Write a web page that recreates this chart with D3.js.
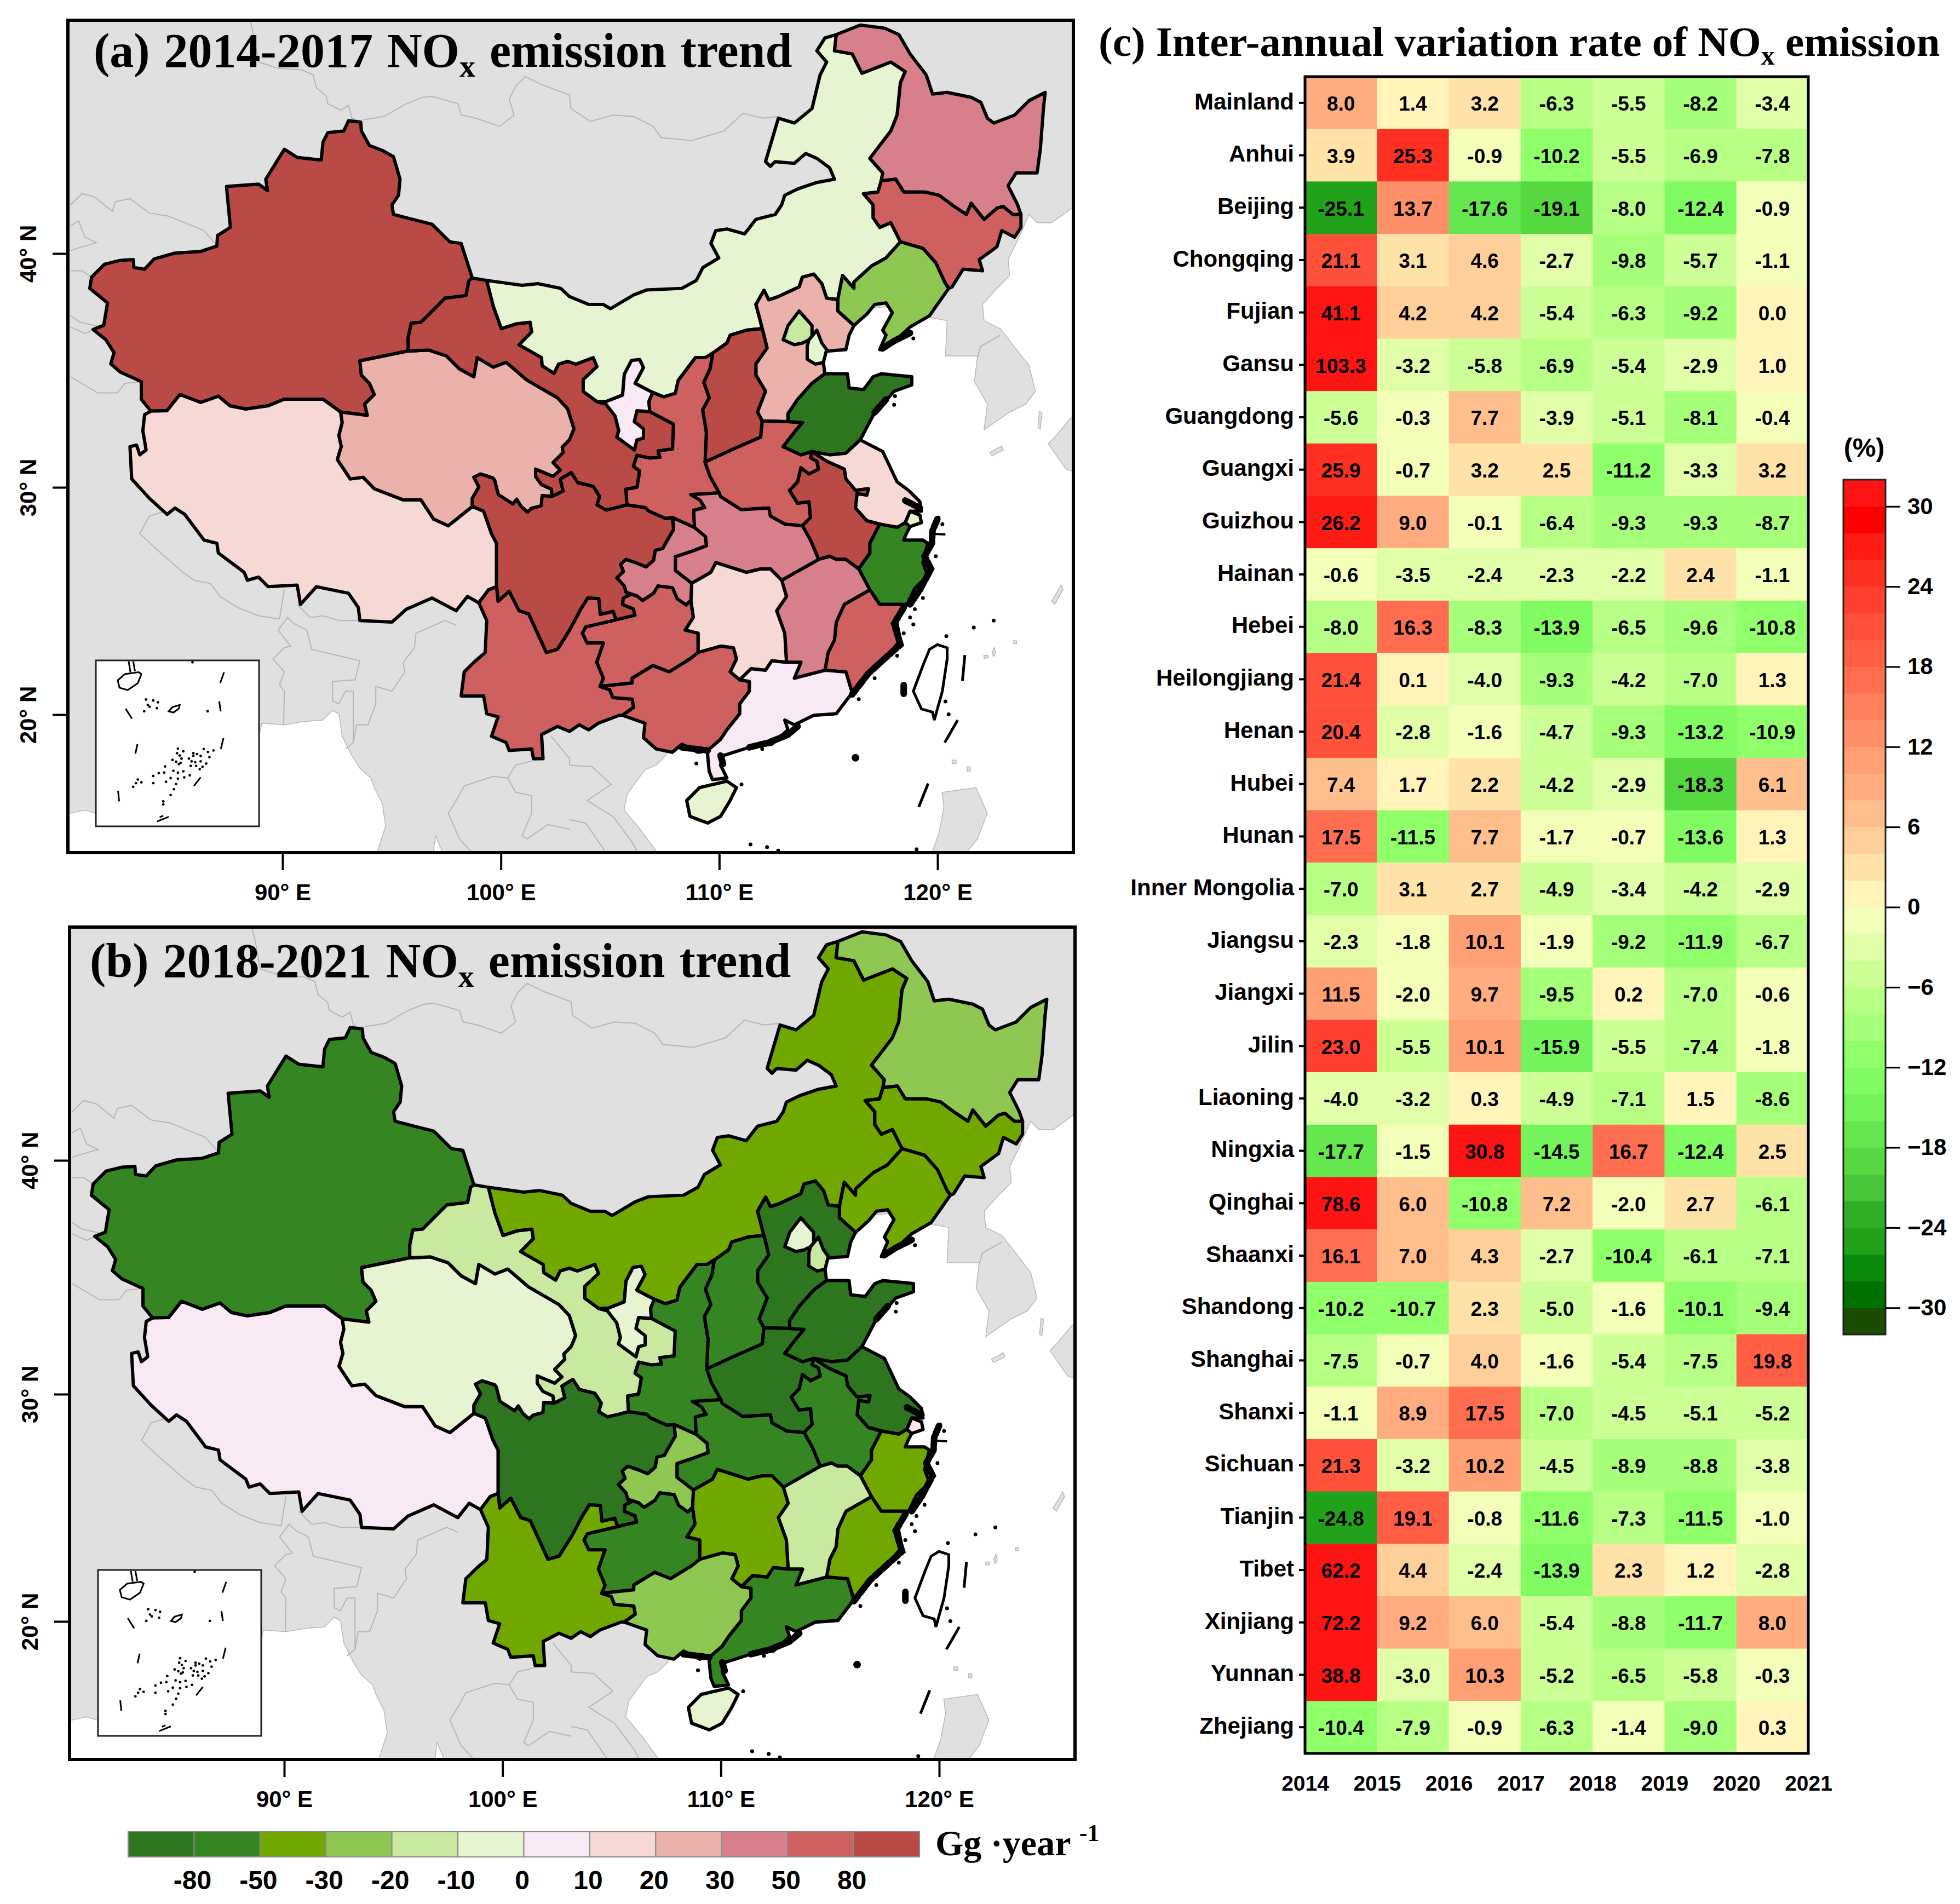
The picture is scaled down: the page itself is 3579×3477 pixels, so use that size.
<!DOCTYPE html>
<html>
<head>
<meta charset="utf-8">
<script src="https://cdn.jsdelivr.net/npm/d3@7"></script>
<style>
html, body { margin: 0; padding: 0; background: #fff; }
svg { display: block; }
</style>
</head>
<body>
<div class="container"></div>
<script>
// values

// (c) heat map
var regions = ["Mainland","Anhui","Beijing","Chongqing","Fujian","Gansu","Guangdong","Guangxi","Guizhou","Hainan","Hebei","Heilongjiang","Henan","Hubei","Hunan","Inner Mongolia","Jiangsu","Jiangxi","Jilin","Liaoning","Ningxia","Qinghai","Shaanxi","Shandong","Shanghai","Shanxi","Sichuan","Tianjin","Tibet","Xinjiang","Yunnan","Zhejiang"];
var years = [2014,2015,2016,2017,2018,2019,2020,2021];
var rates = [
  [8.0,1.4,3.2,-6.3,-5.5,-8.2,-3.4],
  [3.9,25.3,-0.9,-10.2,-5.5,-6.9,-7.8],
  [-25.1,13.7,-17.6,-19.1,-8.0,-12.4,-0.9],
  [21.1,3.1,4.6,-2.7,-9.8,-5.7,-1.1],
  [41.1,4.2,4.2,-5.4,-6.3,-9.2,0.0],
  [103.3,-3.2,-5.8,-6.9,-5.4,-2.9,1.0],
  [-5.6,-0.3,7.7,-3.9,-5.1,-8.1,-0.4],
  [25.9,-0.7,3.2,2.5,-11.2,-3.3,3.2],
  [26.2,9.0,-0.1,-6.4,-9.3,-9.3,-8.7],
  [-0.6,-3.5,-2.4,-2.3,-2.2,2.4,-1.1],
  [-8.0,16.3,-8.3,-13.9,-6.5,-9.6,-10.8],
  [21.4,0.1,-4.0,-9.3,-4.2,-7.0,1.3],
  [20.4,-2.8,-1.6,-4.7,-9.3,-13.2,-10.9],
  [7.4,1.7,2.2,-4.2,-2.9,-18.3,6.1],
  [17.5,-11.5,7.7,-1.7,-0.7,-13.6,1.3],
  [-7.0,3.1,2.7,-4.9,-3.4,-4.2,-2.9],
  [-2.3,-1.8,10.1,-1.9,-9.2,-11.9,-6.7],
  [11.5,-2.0,9.7,-9.5,0.2,-7.0,-0.6],
  [23.0,-5.5,10.1,-15.9,-5.5,-7.4,-1.8],
  [-4.0,-3.2,0.3,-4.9,-7.1,1.5,-8.6],
  [-17.7,-1.5,30.8,-14.5,16.7,-12.4,2.5],
  [78.6,6.0,-10.8,7.2,-2.0,2.7,-6.1],
  [16.1,7.0,4.3,-2.7,-10.4,-6.1,-7.1],
  [-10.2,-10.7,2.3,-5.0,-1.6,-10.1,-9.4],
  [-7.5,-0.7,4.0,-1.6,-5.4,-7.5,19.8],
  [-1.1,8.9,17.5,-7.0,-4.5,-5.1,-5.2],
  [21.3,-3.2,10.2,-4.5,-8.9,-8.8,-3.8],
  [-24.8,19.1,-0.8,-11.6,-7.3,-11.5,-1.0],
  [62.2,4.4,-2.4,-13.9,2.3,1.2,-2.8],
  [72.2,9.2,6.0,-5.4,-8.8,-11.7,8.0],
  [38.8,-3.0,10.3,-5.2,-6.5,-5.8,-0.3],
  [-10.4,-7.9,-0.9,-6.3,-1.4,-9.0,0.3]
];
// bottom to top, one colour per 2 % step
var rateColors = ["#1a4d00","#007000","#0a8a0a","#22a11a","#2fae28","#48c438","#55d840","#63e64e","#72f45a","#80fc62","#8fff6a","#a6ff78","#b8ff85","#ccff95","#e0ffa8","#f3ffb8","#fff5bb","#ffe2a8","#ffcf9a","#ffbf8c","#ffad80","#ff9f74","#ff8f68","#ff7f5c","#ff6e50","#ff5e44","#ff503a","#ff402e","#ff3022","#ff1c14","#ff0000","#ff1414"];
var rateTicks = [30,24,18,12,6,0,-6,-12,-18,-24,-30];

// (a) (b) legend
var trendBreaks = [-80,-50,-30,-20,-10,0,10,20,30,50,80];
var trendColors = ["#2d751f","#358522","#70a800","#8fc753","#c9e9a0","#e6f4d2","#f9e9f4","#f6d9d5","#ebb2ab","#d7808b","#cf6060","#b94a45"];

var provinceNames = ["Xinjiang","Tibet","Qinghai","Gansu","Ningxia","Inner Mongolia","Heilongjiang","Jilin","Liaoning","Hebei","Beijing","Tianjin","Shanxi","Shaanxi","Henan","Shandong","Jiangsu","Anhui","Zhejiang","Shanghai","Fujian","Jiangxi","Hubei","Hunan","Chongqing","Sichuan","Guizhou","Yunnan","Guangxi","Guangdong","Hainan"];
// only the class can be read, so these are estimates inside each class
var trend1417 = [90,15,25,90,5,-5,40,65,-25,25,-15,-5,90,65,65,-90,15,90,-65,-5,65,40,40,15,40,90,65,65,65,5,-5];
var trend1821 = [-65,5,-5,-15,-5,-40,-25,-40,-40,-90,-5,-15,-65,-65,-90,-90,-90,-65,-40,5,-40,-15,-65,-40,-25,-90,-65,-40,-25,-65,-5];

// shared borders, [x, y] in the degrees of the panel axes
var xjNorth = [[98.69,38.95],[98.18,40.43],[97.66,40.50],[96.85,41.25],[95.08,41.67],[95.01,42.08],[95.31,42.49],[95.38,43.18],[95.08,44.14],[94.57,44.41],[93.98,44.62],[93.61,45.24],[93.58,45.62],[93.02,45.68],[92.80,45.24],[92.07,45.17],[91.85,44.76],[91.77,44.00],[90.67,44.11],[90.08,44.46],[89.23,43.18],[89.31,42.70],[88.90,42.97],[87.43,42.87],[87.61,41.12],[87.02,40.77],[86.99,40.32],[86.25,40.09],[85.07,40.02],[84.12,39.77],[83.68,39.33],[83.19,39.40],[83.16,39.74],[82.57,39.71],[81.84,39.54],[81.25,38.99],[81.17,38.51],[81.98,37.89],[81.81,36.93],[81.32,36.75],[81.91,36.31],[82.28,35.76],[82.13,35.28],[82.57,34.93],[83.53,34.52],[83.53,33.77],[83.97,33.26]];
var xjTibet = [[83.97,33.26],[84.71,33.28],[85.30,33.97],[86.25,33.63],[87.06,33.90],[87.58,33.49],[88.31,33.35],[89.34,33.49],[90.08,33.77],[91.85,33.77],[92.66,33.22]];
var xjQinghai = [[92.66,33.22],[93.88,33.08],[93.76,33.56],[94.20,33.97],[93.98,34.45],[93.61,34.80],[93.54,35.41],[95.75,35.83]];
var xjGansu = [[95.75,35.83],[95.75,36.38],[95.89,37.02],[96.34,37.06],[97.44,38.09],[98.40,38.20],[98.54,38.85],[98.69,38.95]];
var qhGs = [[95.75,35.83],[96.70,35.87],[97.51,35.62],[98.10,35.07],[98.76,34.73],[98.91,35.55],[99.65,35.14],[100.24,35.35],[101.19,34.59],[102.59,33.83],[103.06,33.36],[103.35,32.50],[103.14,32.03],[102.81,31.72],[102.85,31.49],[102.39,31.06],[102.72,30.74],[102.39,30.47],[101.59,30.78],[101.59,30.47],[101.85,30.12],[102.31,29.92],[102.35,29.60]];
var qhSc = [[98.69,29.16],[98.69,29.52],[98.99,30.02],[98.76,30.43],[99.06,30.57],[99.63,30.40],[99.71,30.31],[99.88,29.68],[100.55,29.27],[100.72,29.48],[100.93,29.15],[101.22,28.91],[101.39,29.07],[101.85,29.19],[101.89,29.64],[102.35,29.60]];
var qhTb = [[92.66,33.22],[92.73,32.77],[92.58,32.22],[92.69,31.74],[92.51,31.19],[93.10,30.36],[93.69,30.43],[94.20,29.94],[95.53,29.45],[96.34,29.45],[96.92,28.60],[97.59,28.31],[98.69,29.16]];
var tbOuter = [[83.97,33.26],[83.68,33.11],[83.60,32.42],[83.75,31.60],[83.46,31.39],[83.31,31.81],[83.01,31.74],[83.09,30.36],[83.90,29.52],[84.71,28.81],[85.07,29.09],[85.52,28.81],[86.40,27.68],[86.99,27.54],[87.06,27.11],[88.24,26.26],[88.39,25.91],[88.90,26.05],[89.34,25.63],[90.67,25.70],[90.82,24.85],[91.55,25.63],[93.02,25.34],[93.47,24.71],[93.54,24.14],[95.01,24.07],[95.67,24.64],[96.85,25.13],[97.95,24.57],[98.47,25.20],[98.99,24.92]];
var tbYn = [[98.99,24.92],[99.43,25.49],[99.80,25.63]];
var tbSc = [[99.80,25.63],[99.80,27.54],[99.57,27.96],[99.21,28.95],[98.69,29.16]];
var scYn = [[99.80,25.63],[99.87,24.99],[100.38,25.42],[100.83,24.57],[101.27,24.43],[102.08,22.73],[102.59,22.87],[103.15,23.72],[103.66,24.64],[103.98,25.13],[104.48,25.10],[104.55,24.41],[105.14,24.54],[105.27,24.17]];
var scGz = [[105.27,24.17],[106.14,24.37],[106.07,24.65],[105.57,24.85],[105.61,25.13],[105.89,25.26],[105.73,25.38]];
var scCq = [[107.86,28.67],[107.91,28.15],[107.57,27.59],[107.41,27.31],[107.07,27.23],[106.99,26.79],[106.65,26.50],[106.23,26.67],[105.73,26.83],[105.48,26.62],[105.61,26.30],[105.31,26.02],[105.65,25.66],[105.73,25.38]];
var cqHb = [[108.87,28.23],[109.37,27.83],[109.41,27.43],[108.74,27.19],[107.99,26.95],[107.99,26.34],[108.74,25.78]];
var cqSn = [[108.87,28.23],[107.86,28.67]];
var cqHn = [[108.74,25.78],[108.70,25.02]];
var cqGz = [[105.73,25.38],[106.23,25.22],[106.49,25.02],[106.99,25.34],[107.20,25.66],[107.86,25.58],[108.07,25.10],[108.49,24.82],[108.70,25.02]];
var gzHn = [[108.70,25.02],[108.81,24.28],[108.44,23.72],[109.03,23.58],[109.03,22.73]];
var gzGx = [[104.54,21.24],[106.01,21.39],[106.01,21.60],[106.97,22.16],[107.70,21.88],[108.66,22.45],[109.03,22.73]];
var gzYn = [[105.27,24.17],[103.88,23.86],[103.73,23.58],[103.95,23.15],[104.69,23.15],[104.39,22.30],[104.69,21.60],[104.54,21.24]];
var ynGx = [[104.54,21.24],[104.98,21.10],[105.13,20.75],[106.01,20.68],[106.08,20.32],[105.57,19.97]];
var ynOuter = [[98.99,24.92],[99.35,24.14],[99.28,22.73],[98.84,22.37],[98.32,21.88],[98.18,20.82],[99.21,20.82],[99.35,20.04],[99.87,19.90],[99.57,19.05],[100.24,18.77],[100.38,18.42],[101.41,18.49],[101.49,18.06],[101.93,18.06],[101.86,19.12],[102.59,19.48],[103.14,19.26],[103.58,19.55],[104.02,19.33],[104.46,19.62],[105.42,19.97],[105.57,19.97]];
var gxOuter = [[105.57,19.97],[106.60,19.62],[106.53,18.98],[107.11,18.49],[107.85,18.34],[108.29,18.70],[109.03,18.34],[109.47,18.42]];
var gxGd = [[109.47,18.42],[110.06,18.91],[110.35,19.33],[110.94,20.04],[110.94,20.47],[111.38,21.03],[111.38,21.46],[110.94,21.53]];
var gxHn = [[109.03,22.73],[110.06,23.01],[110.65,22.94],[110.79,22.45],[110.50,21.88],[110.94,21.53]];
var gdHn = [[110.94,21.53],[111.46,22.02],[112.12,21.95],[112.41,22.37],[113.08,22.30]];
var gdJx = [[113.08,22.30],[113.74,22.30],[113.44,21.60],[114.84,21.95]];
var gdFj = [[114.84,21.95],[115.80,21.88],[116.09,20.96]];
var gdCoast = [[109.47,18.42],[109.47,18.20],[109.54,17.50],[109.69,17.14],[110.35,17.21],[110.06,17.78],[110.20,18.20],[111.38,18.56],[112.41,18.70],[113.15,19.33],[113.00,19.76],[113.44,19.55],[114.33,19.97],[115.36,20.04],[116.09,20.96]];
var fjCoast = [[118.60,24.85],[118.08,24.28],[118.30,23.29],[117.71,22.59],[116.83,21.74],[116.09,20.96]];
var fjJx = [[114.84,21.95],[114.99,22.73],[115.28,23.29],[115.36,24.07],[115.73,24.85],[116.90,25.49]];
var fjZj = [[116.90,25.49],[117.35,24.85],[118.01,24.85],[118.60,24.85]];
var zjJx = [[116.90,25.49],[116.39,26.41]];
var zjAh = [[116.39,26.41],[116.90,27.11],[116.90,27.54],[117.35,28.38]];
var zjCoast = [[118.52,28.45],[118.74,28.27],[118.57,27.96],[118.45,27.68],[119.33,27.68],[119.55,27.54],[119.33,26.69],[119.55,26.12],[118.96,25.56],[118.60,24.85]];
var jsZj = [[117.35,28.38],[118.15,28.24],[118.52,28.45]];
var jxAh = [[116.39,26.41],[115.80,26.83],[115.36,26.83],[115.06,26.97],[114.55,26.83]];
var jxHb = [[114.55,26.83],[112.86,25.91]];
var jxHn = [[112.86,25.91],[113.08,25.20],[112.63,24.57],[113.00,23.58],[113.08,22.30]];
var hnHb = [[108.74,25.78],[109.62,26.26],[109.84,26.69],[111.24,26.26],[111.90,26.41],[112.34,26.41],[112.86,25.91]];
var hbSn = [[110.00,29.76],[108.70,29.68],[109.12,29.44],[109.33,29.11],[108.83,28.99],[108.87,28.23]];
var hbHa = [[110.00,29.76],[110.06,29.59],[111.00,29.02],[112.27,29.09],[112.34,28.74],[113.00,28.38],[113.81,28.31]];
var hbAh = [[113.81,28.31],[114.18,27.68],[114.55,26.83]];
var haAh = [[113.81,28.31],[114.18,28.67],[114.11,29.37],[113.59,29.30],[113.22,29.87],[113.59,30.23],[113.74,30.84],[114.11,30.57],[114.55,30.78],[114.47,31.12],[114.18,31.26],[114.25,31.53]];
var haSd = [[114.25,31.53],[113.74,31.39],[112.93,31.74],[113.44,32.36],[113.81,32.77],[113.15,32.81]];
var haHe = [[113.15,32.81],[111.97,32.84]];
var haSx = [[111.97,32.84],[111.90,32.15],[110.72,31.67],[109.35,31.08]];
var haSn = [[109.35,31.08],[109.58,30.47],[110.00,29.76]];
var sxSn = [[109.70,35.74],[109.58,35.08],[109.29,34.49],[109.54,33.83],[109.24,33.32],[109.41,32.35],[109.35,31.08]];
var sxIm = [[109.70,35.74],[110.35,36.17],[110.50,36.51],[111.24,36.72],[111.97,36.79]];
var sxHe = [[111.97,36.79],[112.19,35.96],[111.68,35.28],[111.68,34.80],[112.12,34.11],[111.75,33.22],[111.97,32.84]];
var snIm = [[106.95,34.06],[107.45,33.87],[107.99,34.02],[108.12,34.57],[108.91,35.55],[109.37,35.55],[109.70,35.74]];
var nxIm = [[104.40,33.67],[104.81,33.67],[105.57,33.95],[105.65,34.84],[105.98,35.43],[106.36,35.47],[106.53,35.12],[106.15,34.45],[106.95,34.06]];
var nxSn = [[106.95,34.06],[106.78,33.67],[106.82,33.24]];
var nxGs = [[104.40,33.67],[104.81,33.56],[105.23,33.05],[105.40,32.42],[105.31,32.15],[106.11,31.60],[106.23,32.03],[106.53,32.11],[106.53,32.50],[106.11,32.81],[106.23,33.28],[106.82,33.24]];
var gsSn = [[106.82,33.24],[107.91,32.70],[107.86,31.64],[107.20,31.56],[107.28,31.29],[106.82,31.25],[106.23,31.37],[106.07,30.90],[106.36,30.70],[106.23,30.00],[105.73,29.92],[105.77,29.23]];
var gsSc = [[102.35,29.60],[102.85,29.84],[102.72,30.35],[103.22,30.63],[103.52,30.20],[104.23,30.04],[104.52,29.60],[104.40,29.23],[104.81,29.00],[105.31,29.11],[105.77,29.23]];
var snSc = [[105.77,29.23],[106.61,29.11],[106.78,28.95],[107.53,28.63],[107.86,28.67]];
var gsNorth = [[98.69,38.95],[99.35,38.85]];
var gsIm = [[99.35,38.85],[99.65,37.75],[100.02,36.79],[100.68,36.99],[101.34,37.06],[101.41,36.65],[100.83,36.10],[101.86,35.55],[101.89,35.20],[102.43,34.88],[102.64,35.27],[103.06,35.39],[103.43,35.27],[104.23,35.55],[104.40,35.16],[103.77,34.61],[103.77,34.10],[104.40,33.67]];
var imNorth = [[99.35,38.85],[100.97,38.64],[101.71,38.71],[102.74,38.51],[103.14,38.16],[104.02,37.82],[104.69,37.82],[105.02,37.64],[106.08,38.23],[106.67,38.44],[108.29,38.51],[108.95,38.85],[109.25,39.40],[109.98,39.81],[109.62,40.43],[109.84,40.98],[110.35,41.05],[111.16,40.84],[111.68,41.46],[112.56,41.67],[112.86,42.08],[113.00,42.49],[113.59,42.76],[114.47,43.04],[115.28,43.18],[115.06,43.66],[114.47,44.07],[113.96,44.28],[113.44,43.86],[112.56,43.93],[112.34,43.73],[112.12,43.93],[112.71,45.79],[113.44,45.58],[114.25,46.20],[114.62,47.64],[114.92,48.19],[114.47,48.67],[114.84,49.22],[115.36,49.36]];
var imHl = [[115.36,49.36],[115.28,48.67],[116.09,48.54],[116.54,47.71],[117.86,48.19],[118.52,47.78],[118.30,47.30],[118.15,45.93],[117.86,45.24],[116.90,44.07],[117.49,43.45],[117.42,43.11]];
var imJl = [[117.42,43.11],[117.27,42.63],[116.61,42.56],[117.05,42.08],[117.05,41.53],[117.35,41.12],[117.86,41.32],[118.30,40.50]];
var imLn = [[118.30,40.50],[117.64,39.81],[116.98,39.47],[116.17,38.78],[116.17,38.51],[115.65,39.06],[115.43,38.03]];
var imHe = [[115.43,38.03],[114.92,38.09],[114.70,38.71],[114.33,39.12],[113.81,38.99],[113.66,38.57],[112.71,38.16],[112.27,38.02],[112.05,38.43],[111.68,37.82],[111.82,37.34],[111.97,36.79]];
var hlOuter = [[115.36,49.36],[116.46,49.77],[117.57,49.64],[118.23,49.36],[118.74,48.54],[119.48,47.64],[119.77,46.82],[120.44,46.89],[121.54,46.68],[121.98,46.47],[122.28,45.79],[122.57,45.58],[123.53,45.92],[124.19,46.54],[124.93,46.89],[124.85,46.20],[124.71,44.48],[124.56,43.45],[123.60,43.45],[123.23,42.90],[123.67,42.08],[123.82,41.67]];
var hlJl = [[117.42,43.11],[118.08,43.18],[118.45,42.63],[119.41,42.63],[120.07,42.49],[120.66,42.08],[121.32,41.67],[121.54,42.15],[122.13,41.46],[122.72,41.94],[123.01,42.01],[123.45,41.67],[123.82,41.67]];
var jlOuter = [[123.82,41.67],[123.82,41.12],[123.53,40.70],[122.94,40.98],[122.72,40.29],[121.91,39.74],[122.06,39.26],[121.17,39.33],[120.66,38.57],[120.51,38.51]];
var jlLn = [[118.30,40.50],[119.33,40.22],[119.92,39.60],[120.36,38.71],[120.51,38.51]];
var lnCoast = [[120.51,38.51],[119.63,37.34],[118.74,36.86],[117.86,36.10],[117.35,35.89],[117.64,36.51],[117.49,36.72],[117.93,37.47],[117.64,37.89],[117.12,37.82],[116.76,37.41],[116.17,36.92]];
var lnHe = [[116.17,36.92],[115.43,37.54],[115.43,38.03]];
var heCoast = [[116.17,36.92],[115.95,36.51],[115.80,35.89],[114.84,35.82],[114.77,35.34],[114.84,34.86]];
var heSd = [[114.84,34.86],[114.25,34.45],[113.59,33.76],[113.15,33.15],[113.15,32.81]];
var sdCoast = [[114.84,34.86],[115.87,34.86],[115.95,34.25],[116.61,34.18],[117.05,34.73],[117.42,34.86],[118.82,34.73],[118.82,34.38],[118.01,34.11],[117.49,33.56],[117.05,33.08],[116.46,32.03]];
var sdJs = [[116.46,32.03],[115.80,31.46],[115.06,31.39],[114.25,31.53]];
var ahJs = [[114.25,31.53],[114.92,31.12],[115.73,30.78],[115.80,30.36],[116.24,29.87],[116.83,29.94],[116.76,29.66],[116.31,29.73],[116.24,29.09],[116.76,28.53],[117.35,28.38]];
var jsCoast = [[116.46,32.03],[117.49,31.53],[118.15,30.23],[118.67,29.87],[119.19,29.37],[119.26,28.95],[118.74,28.95],[118.52,28.45]];

// provinces that need no shared border
var beijingRing = [[113.66,37.54],[114.25,36.92],[114.25,36.37],[113.81,36.17],[113.44,36.10],[112.93,36.31],[113.15,36.92]];
var tianjinRing = [[114.47,36.72],[114.70,36.17],[114.92,35.89],[114.77,35.34],[114.40,35.27],[114.03,35.48],[114.03,36.03],[114.11,36.31]];
var shanghaiRing = [[118.74,28.95],[119.19,28.78],[119.26,28.45],[118.74,28.27],[118.52,28.45]];
var hainanRing = [[108.51,16.22],[109.10,16.79],[110.35,17.07],[110.79,16.79],[110.50,16.22],[110.06,15.52],[109.47,15.23],[108.66,15.52]];
var taiwanRing = [[119.99,23.08],[120.44,22.94],[120.44,22.45],[120.22,21.03],[119.85,19.76],[119.77,20.11],[119.26,20.25],[118.89,21.03],[119.33,22.16],[119.63,22.87]];

// black dashes and the dense island chains along the coast
var seaDashes = [
  [[121.25,22.62],[121.14,21.48]],
  [[120.92,19.76],[120.33,18.77]],
  [[119.57,16.97],[119.14,15.94]]
];
var islandChains = [
  [[119.99,28.60],[119.77,28.10],[119.74,27.54],[119.41,26.97],[119.70,26.41],[119.19,25.49],[118.74,24.85]],
  [[118.45,24.71],[118.01,24.00],[118.30,23.08],[117.64,22.52],[116.83,21.81],[116.09,20.89]],
  [[113.59,19.48],[113.15,19.12],[112.27,18.77],[111.38,18.56]],
  [[110.06,18.20],[110.20,17.75]],
  [[108.29,18.56],[109.47,18.42]],
  [[118.74,36.60],[118.01,36.26],[117.42,35.91]],
  [[117.12,33.21],[117.64,33.76]],
  [[118.52,29.42],[119.19,29.09]],
  [[118.45,21.30],[118.45,20.90]]
];
var thinChains = [
  [[119.70,27.96],[120.36,27.93]]
];
var seaDots = [[120.36,20.58],[120.51,20.01],[121.66,23.83],[122.57,24.14],[111.43,14.29],[112.19,14.17],[112.70,14.02],[119.04,14.07],[120.40,23.45],[118.05,33.90],[120.22,28.38],[120.04,28.67],[119.92,26.97],[119.74,26.41],[119.33,25.13],[118.96,24.64],[118.74,24.28],[118.89,23.97],[118.45,23.58],[118.15,22.59],[117.12,21.60],[116.39,20.68],[111.97,18.49],[108.95,17.85],[111.02,16.93],[118.01,33.53],[118.89,36.37],[116.24,18.10]];

// grey neighbours
var landMain = [[79,51],[127,51],[127,42.00],[126.22,42.00],[125.74,41.66],[125.22,41.32],[124.56,41.32],[124.19,41.67],[123.60,40.43],[123.23,39.74],[123.30,39.05],[122.72,38.51],[122.06,37.82],[122.13,37.13],[122.87,36.79],[124.19,35.21],[124.48,34.11],[124.04,33.56],[123.30,33.22],[122.13,32.46],[122.28,33.56],[121.69,34.52],[121.83,35.62],[120.36,35.62],[120.44,37.13],[119.63,37.27],[118.50,37.80],[115.00,37.50],[112.00,32.00],[107.85,19.50],[107.56,18.20],[107.11,17.78],[106.60,17.57],[105.79,16.51],[105.64,15.80],[106.38,14.95],[107.11,14.00],[107.11,13],[97.30,13],[97.30,14.00],[97.00,14.67],[96.78,13],[94.35,13],[94.35,14.00],[94.72,15.10],[94.57,16.08],[94.20,16.79],[94.05,17.21],[93.54,17.64],[93.17,18.20],[92.73,19.05],[92.58,20.04],[92.28,20.18],[91.85,19.76],[90.96,19.69],[90.08,19.55],[89.05,19.62],[88.95,19.20],[81.44,15.66],[80.95,15.80],[80.29,15.66],[79,15.66]];
var landIslands = [
  [[126.10,32.97],[125.37,32.15],[125.07,31.87],[125.37,31.46],[125.88,30.78],[126.10,30.71],[127,30.71],[127,32.97]],
  [[122.39,31.49],[122.94,31.77],[123.01,31.60],[122.50,31.35]],
  [[124.66,33.25],[124.78,33.18],[124.70,32.49],[124.60,32.56]],
  [[125.66,25.70],[125.22,24.99],[125.37,24.85],[125.74,25.49]],
  [[120.21,16.58],[121.76,16.79],[122.28,15.66],[121.83,14.53],[121.39,14.00],[121.39,13],[119.77,13],[119.77,14.00],[120.07,14.81],[120.29,15.94]],
  [[122.12,22.60],[122.30,22.62],[122.32,22.50],[122.14,22.48]],
  [[122.50,22.75],[122.60,22.95],[122.66,22.70],[122.56,22.55]],
  [[123.48,23.25],[123.62,23.25],[123.62,23.12],[123.50,23.12]],
  [[120.66,18.00],[120.85,18.00],[120.85,17.85],[120.68,17.85]],
  [[121.35,17.70],[121.50,17.70],[121.50,17.52],[121.35,17.52]]
];
var countryLines = [
  [[88.53,49.91],[88.68,49.36],[88.90,48.19],[89.79,47.92],[90.89,47.85],[91.40,47.64],[91.55,47.09],[91.99,46.75],[92.07,46.41],[92.66,46.13],[93.02,46.34],[93.17,45.79],[93.58,45.62]],
  [[93.69,45.72],[94.64,45.86],[95.67,46.41],[96.41,46.68],[96.85,46.72],[98.03,46.41],[98.18,45.93],[98.84,45.79],[99.94,45.44],[100.60,45.92],[100.38,46.61],[100.68,47.16],[101.12,47.57],[101.86,47.23],[103.14,46.78],[103.21,46.20],[104.10,45.65],[105.13,45.92],[106.08,45.86],[106.97,45.44],[107.34,44.96],[108.73,44.83],[110.21,45.24],[111.09,46.00],[111.97,45.79],[112.71,45.86]],
  [[80.29,42.08],[80.81,42.56],[81.39,42.42],[82.20,41.80],[82.35,42.22],[83.01,42.35],[83.90,41.73],[84.78,41.60],[86.40,40.98],[86.91,40.43]],
  [[80.29,41.18],[80.66,41.39],[80.95,40.70],[81.47,40.46],[80.81,40.29],[80.29,40.13]],
  [[80.29,39.26],[80.81,39.26],[81.25,38.99]],
  [[80.29,37.34],[80.73,37.06],[81.69,36.86]],
  [[80.29,36.86],[80.95,36.58],[81.32,36.75]],
  [[80.29,34.73],[81.54,34.04],[82.43,34.04],[82.79,34.45],[83.53,34.52]],
  [[84.63,28.95],[83.90,28.74],[83.46,27.96],[84.34,27.18],[85.44,26.26],[85.96,25.91],[86.69,25.77],[87.14,25.20],[87.95,24.71],[88.90,24.35],[89.86,24.21],[90.08,25.49]],
  [[90.67,24.85],[91.26,24.28],[91.85,24.35],[92.58,24.14],[93.47,24.14]],
  [[89.79,23.72],[90.23,24.28],[90.52,24.00],[91.11,23.72],[91.33,22.87],[92.58,22.59],[93.54,22.37],[93.32,21.53],[92.29,21.46],[92.29,20.61],[92.58,20.47],[92.88,21.03],[93.24,21.03],[93.24,18.77],[92.88,18.49]],
  [[89.79,23.72],[90.37,23.01],[90.08,22.94],[89.56,22.45],[90.08,21.88],[89.86,21.31],[90.08,21.03],[90.05,19.55]],
  [[97.95,23.93],[97.44,24.14],[96.11,23.58],[96.04,22.94],[95.53,22.30],[95.60,21.88],[95.01,21.03],[94.27,21.24],[94.27,20.47],[93.91,19.55],[93.39,19.55],[93.24,18.77]],
  [[101.86,18.06],[100.68,17.78],[100.31,17.21],[99.65,17.28],[98.32,16.86],[97.95,16.22],[97.59,15.66],[98.10,14.53],[98.62,14.00]],
  [[100.31,17.21],[100.68,16.58],[101.41,16.44],[101.41,15.66],[100.97,14.67],[101.19,14.53],[102.15,15.16],[103.15,14.95]],
  [[103.14,17.78],[104.17,17.71],[105.05,16.93],[103.95,16.22],[105.13,15.52],[106.01,14.39],[106.23,14.00]],
  [[103.14,15.38],[103.88,15.23],[104.76,14.00]],
  [[102.30,19.05],[103.15,18.06],[103.14,17.78]],
  [[121.83,35.55],[121.98,36.03],[122.87,36.51]]
];

// inset: South China Sea
var insetHainan = [[108.41,22.35],[109.22,23.19],[110.73,23.43],[111.03,23.19],[110.63,21.98],[109.52,21.07],[108.61,21.38]];
var insetParacel = [[114.04,18.25],[114.44,18.80],[115.25,19.09],[115.15,18.61],[114.55,18.08]];
var insetLines = [
  [[109.62,24.88],[109.82,23.43]],
  [[110.12,24.88],[110.32,23.55]],
  [[120.14,23.43],[119.72,21.98]],
  [[119.61,19.57],[119.77,18.25]],
  [[109.28,18.61],[109.98,17.28]],
  [[110.59,13.90],[110.36,12.63]],
  [[120.08,14.70],[119.78,13.25]],
  [[117.56,9.49],[116.82,8.36]],
  [[108.45,7.71],[108.57,6.31]],
  [[114.04,4.26],[112.74,3.65]],
  [[113.44,4.40],[113.04,4.21]]
];
var insetDots = [[115.05,13.30],[114.95,12.70],[115.65,12.94],[115.25,12.39],[115.45,11.98],[114.45,11.81],[114.85,11.57],[115.35,11.42],[115.15,11.25],[113.64,10.94],[116.76,12.70],[117.16,12.58],[117.56,12.34],[116.76,12.34],[116.26,11.98],[116.56,11.61],[116.96,11.49],[117.56,11.61],[118.17,11.32],[116.46,11.01],[117.06,11.01],[117.76,10.89],[117.46,10.58],[117.90,13.25],[118.37,12.87],[118.97,13.06],[118.53,12.17],[114.55,10.36],[115.05,10.12],[115.65,10.29],[112.33,9.68],[112.94,10.05],[113.54,10.12],[110.63,9.20],[111.03,8.84],[110.42,8.72],[110.12,8.24],[112.33,8.72],[113.74,8.91],[114.25,9.39],[115.05,9.32],[114.85,8.60],[115.75,9.49],[116.36,9.76],[114.61,7.92],[114.25,7.15],[113.44,6.31],[113.44,5.90],[111.53,19.81],[112.33,19.69],[112.84,19.45],[111.73,19.09],[111.93,18.85],[112.74,18.66],[111.33,18.25],[118.33,18.25],[116.66,24.76]];

var lonTicks = [90,100,110,120];
var latTicks = [40,30,20];

// ---------------------------------------------------------------

var width = 3579;
var height = 3477;
var sans = "'Liberation Sans', Arial, sans-serif";
var serif = "'Liberation Serif', 'Times New Roman', serif";

var svg = d3.select(".container").append("svg")
    .attr("width", width)
    .attr("height", height)
    .attr("viewBox", "0 0 " + width + " " + height);

svg.append("rect").attr("width", width).attr("height", height).attr("fill", "#fff");

var gap = function(a, b) { return Math.hypot(a[0] - b[0], a[1] - b[1]); };

// join shared borders into one closed ring, flipping each one as needed
var ring = function(arcList) {
  var first = arcList[0], next = arcList[1];
  var endGap = Math.min(gap(first[first.length - 1], next[0]), gap(first[first.length - 1], next[next.length - 1]));
  var startGap = Math.min(gap(first[0], next[0]), gap(first[0], next[next.length - 1]));
  var pts = endGap <= startGap ? first.slice() : first.slice().reverse();
  arcList.slice(1).forEach(function(a) {
    var last = pts[pts.length - 1];
    var seg = gap(last, a[0]) <= gap(last, a[a.length - 1]) ? a : a.slice().reverse();
    pts = pts.concat(seg.slice(1));
  });
  return pts;
};

var closeRing = function(pts) { return pts.concat([pts[0]]); };
var polygon = function(pts) { return {type: "Polygon", coordinates: [closeRing(pts)]}; };
var line = function(pts) { return {type: "LineString", coordinates: pts}; };

var provinceRings = [
  ring([xjNorth, xjTibet, xjQinghai, xjGansu]),
  ring([xjTibet, qhTb, tbSc, tbYn, tbOuter]),
  ring([xjQinghai, qhGs, qhSc, qhTb]),
  ring([xjGansu, gsNorth, gsIm, nxGs, gsSn, gsSc, qhGs]),
  ring([nxIm, nxSn, nxGs]),
  ring([gsIm, nxIm, snIm, sxIm, imHe, imLn, imJl, imHl, imNorth]),
  ring([hlOuter, hlJl, imHl]),
  ring([hlJl, jlOuter, jlLn, imJl]),
  ring([jlLn, lnCoast, lnHe, imLn]),
  ring([lnHe, heCoast, heSd, haHe, sxHe, imHe]),
  beijingRing,
  tianjinRing,
  ring([sxIm, sxHe, haSx, sxSn]),
  ring([snIm, sxSn, haSn, hbSn, cqSn, snSc, gsSn, nxSn]),
  ring([haSx, haSn, hbHa, haAh, haSd, haHe]),
  ring([heSd, haSd, sdJs, sdCoast]),
  ring([sdJs, jsCoast, jsZj, ahJs]),
  ring([ahJs, zjAh, jxAh, hbAh, haAh]),
  ring([jsZj, zjCoast, fjZj, zjJx, zjAh]),
  shanghaiRing,
  ring([fjZj, fjCoast, gdFj, fjJx]),
  ring([zjJx, jxAh, jxHb, jxHn, gdJx, fjJx]),
  ring([hbSn, cqHb, hnHb, jxHb, hbAh, hbHa]),
  ring([hnHb, jxHn, gdHn, gxHn, gzHn, cqHn]),
  ring([cqHb, cqHn, cqGz, scCq, cqSn]),
  ring([snSc, scCq, scGz, scYn, tbSc, qhSc, gsSc]),
  ring([cqGz, gzHn, gzGx, gzYn, scGz]),
  ring([tbYn, ynOuter, ynGx, gzYn, scYn]),
  ring([ynGx, gxOuter, gxGd, gxHn, gzGx]),
  ring([gxGd, gdHn, gdJx, gdFj, gdCoast]),
  hainanRing
];

var trendColor = d3.scaleThreshold().domain(trendBreaks).range(trendColors);

// clip paths shared by the two maps get their own id
var drawMap = function(opts) {
  var frame = {left: 124 + opts.dx, right: 1960 + opts.dx, top: 37 + opts.dy, bottom: 1557 + opts.dy};

  var x = d3.scaleLinear().domain([90, 120]).range([516 + opts.dx, 1712 + opts.dx]);
  var y = d3.scaleLinear().domain([40, 30, 20]).range([463 + opts.dy, 890 + opts.dy, 1305 + opts.dy]);

  var path = d3.geoPath(d3.geoTransform({
    point: function(lon, lat) { this.stream.point(x(lon), y(lat)); }
  }));

  var clipId = "clip-" + opts.id;
  svg.append("clipPath").attr("id", clipId).append("rect")
      .attr("x", frame.left).attr("y", frame.top)
      .attr("width", frame.right - frame.left).attr("height", frame.bottom - frame.top);

  var g = svg.append("g").attr("clip-path", "url(#" + clipId + ")");

  g.append("rect")
      .attr("x", frame.left).attr("y", frame.top)
      .attr("width", frame.right - frame.left).attr("height", frame.bottom - frame.top)
      .attr("fill", "#fff");

  g.selectAll("path.land").data([landMain].concat(landIslands))
    .enter().append("path")
      .attr("class", "land")
      .attr("d", function(d) { return path(polygon(d)); })
      .attr("fill", "#e0e0e0")
      .attr("stroke", "#b8b8b8")
      .attr("stroke-width", 1.5);

  g.selectAll("path.country").data(countryLines)
    .enter().append("path")
      .attr("class", "country")
      .attr("d", function(d) { return path(line(d)); })
      .attr("fill", "none")
      .attr("stroke", "#b5b5b5")
      .attr("stroke-width", 2);

  g.selectAll("path.province").data(provinceRings)
    .enter().append("path")
      .attr("class", "province")
      .attr("d", function(d) { return path(polygon(d)); })
      .attr("fill", function(d, i) { return trendColor(opts.values[i]); })
      .attr("stroke", "#000")
      .attr("stroke-width", 6)
      .attr("stroke-linejoin", "round")
    .append("title")
      .text(function(d, i) { return provinceNames[i]; });

  g.append("path")
      .attr("d", path(polygon(taiwanRing)))
      .attr("fill", "#fff")
      .attr("stroke", "#000")
      .attr("stroke-width", 5);

  g.selectAll("path.dash").data(seaDashes)
    .enter().append("path")
      .attr("class", "dash")
      .attr("d", function(d) { return path(line(d)); })
      .attr("fill", "none")
      .attr("stroke", "#000")
      .attr("stroke-width", 5);

  g.selectAll("path.chain").data(islandChains)
    .enter().append("path")
      .attr("class", "chain")
      .attr("d", function(d) { return path(line(d)); })
      .attr("fill", "none")
      .attr("stroke", "#000")
      .attr("stroke-width", 12)
      .attr("stroke-linecap", "round")
      .attr("stroke-dasharray", "16 5");

  g.selectAll("path.thin").data(thinChains)
    .enter().append("path")
      .attr("class", "thin")
      .attr("d", function(d) { return path(line(d)); })
      .attr("fill", "none")
      .attr("stroke", "#000")
      .attr("stroke-width", 4);

  g.selectAll("circle.dot").data(seaDots)
    .enter().append("circle")
      .attr("class", "dot")
      .attr("cx", function(d) { return x(d[0]); })
      .attr("cy", function(d) { return y(d[1]); })
      .attr("r", function(d) { return d[0] === 116.24 ? 7 : 3.5; })
      .attr("fill", "#000");

  // inset
  var box = {left: 175 + opts.insetDx, right: 473 + opts.insetDx, top: 1206 + opts.insetDy, bottom: 1509 + opts.insetDy};
  var ix = d3.scaleLinear().domain([106, 124]).range([box.left, box.right]);
  var iy = d3.scaleLinear().domain([25, 3]).range([box.top, box.bottom]);
  var ipath = d3.geoPath(d3.geoTransform({
    point: function(lon, lat) { this.stream.point(ix(lon), iy(lat)); }
  }));

  var inset = svg.append("g");
  inset.append("rect")
      .attr("x", box.left).attr("y", box.top)
      .attr("width", box.right - box.left).attr("height", box.bottom - box.top)
      .attr("fill", "#fff")
      .attr("stroke", "#222")
      .attr("stroke-width", 3);
  inset.selectAll("path.ring").data([insetHainan, insetParacel])
    .enter().append("path")
      .attr("class", "ring")
      .attr("d", function(d) { return ipath(polygon(d)); })
      .attr("fill", "#fff")
      .attr("stroke", "#000")
      .attr("stroke-width", 3);
  inset.selectAll("path.ln").data(insetLines)
    .enter().append("path")
      .attr("class", "ln")
      .attr("d", function(d) { return ipath(line(d)); })
      .attr("fill", "none")
      .attr("stroke", "#000")
      .attr("stroke-width", 3);
  inset.selectAll("circle").data(insetDots)
    .enter().append("circle")
      .attr("cx", function(d) { return ix(d[0]); })
      .attr("cy", function(d) { return iy(d[1]); })
      .attr("r", 2.4)
      .attr("fill", "#000");

  // frame and axes
  svg.append("rect")
      .attr("x", frame.left).attr("y", frame.top)
      .attr("width", frame.right - frame.left).attr("height", frame.bottom - frame.top)
      .attr("fill", "none")
      .attr("stroke", "#000")
      .attr("stroke-width", 6);

  var xAxis = svg.append("g")
      .attr("transform", "translate(0," + frame.bottom + ")")
      .call(d3.axisBottom(x).tickValues(lonTicks).tickSize(32).tickPadding(25)
        .tickFormat(function(d) { return d + "\u00b0 E"; }));
  xAxis.select(".domain").remove();
  xAxis.selectAll("line").attr("stroke", "#000").attr("stroke-width", 4);
  xAxis.selectAll("text").attr("font-family", sans).attr("font-weight", "bold")
      .attr("font-size", 42).attr("fill", "#000");

  var yAxis = svg.append("g")
      .attr("transform", "translate(" + frame.left + ",0)")
      .call(d3.axisLeft(y).tickValues(latTicks).tickSize(28).tickPadding(0)
        .tickFormat(function(d) { return d + "\u00b0 N"; }));
  yAxis.select(".domain").remove();
  yAxis.selectAll("line").attr("stroke", "#000").attr("stroke-width", 4);
  yAxis.selectAll("text")
      .attr("font-family", sans).attr("font-weight", "bold").attr("font-size", 42).attr("fill", "#000")
      .attr("text-anchor", "middle")
      .attr("x", 0).attr("y", 0).attr("dy", 0)
      .attr("transform", "translate(-58,0) rotate(-90)");

  // title
  var title = svg.append("text")
      .attr("x", opts.titleX).attr("y", opts.titleY)
      .attr("font-family", serif).attr("font-weight", "bold").attr("font-size", 88)
      .attr("word-spacing", 4)
      .attr("fill", "#000");
  title.append("tspan").text(opts.title);
  title.append("tspan").attr("dy", 18).attr("font-size", 58).text("x");
  title.append("tspan").attr("dy", -18).text(" emission trend");
};

drawMap({id: "a", dx: 0, dy: 0, insetDx: 0, insetDy: 0, values: trend1417,
  title: "(a) 2014-2017 NO", titleX: 171, titleY: 122});
drawMap({id: "b", dx: 3, dy: 1656, insetDx: 4, insetDy: 1661, values: trend1821,
  title: "(b) 2018-2021 NO", titleX: 164, titleY: 1784});

// legend of the maps
var legendX = d3.scaleLinear().domain([0, trendColors.length]).range([234, 1679]);
var legend = svg.append("g");
legend.selectAll("rect").data(trendColors)
  .enter().append("rect")
    .attr("x", function(d, i) { return legendX(i); })
    .attr("y", 3345)
    .attr("width", legendX(1) - legendX(0))
    .attr("height", 46)
    .attr("fill", function(d) { return d; })
    .attr("stroke", "#8a8a8a")
    .attr("stroke-width", 2);
legend.selectAll("text").data(trendBreaks)
  .enter().append("text")
    .attr("x", function(d, i) { return legendX(i + 1) - 3; })
    .attr("y", 3450)
    .attr("text-anchor", "middle")
    .attr("font-family", sans).attr("font-weight", "bold").attr("font-size", 48)
    .attr("fill", "#000")
    .text(function(d) { return d; });
var unit = svg.append("text")
    .attr("x", 1708).attr("y", 3388)
    .attr("font-family", serif).attr("font-weight", "bold").attr("font-size", 66)
    .attr("fill", "#000");
unit.append("tspan").text("Gg \u00b7year ");
unit.append("tspan").attr("dy", -26).attr("font-size", 44).text("-1");

// (c) heat map
var heatLeft = 2383, heatRight = 3302, heatTop = 140, heatBottom = 3202;
var columnKeys = d3.range(rates[0].length);
var cellX = d3.scaleBand().domain(columnKeys).range([heatLeft, heatRight]);
var cellY = d3.scaleBand().domain(regions).range([heatTop, heatBottom]);
var rateColor = d3.scaleQuantize().domain([-32, 32]).range(rateColors);

var rows = svg.selectAll("g.row").data(rates)
  .enter().append("g")
    .attr("class", "row")
    .attr("transform", function(d, i) { return "translate(0," + cellY(regions[i]) + ")"; });

rows.selectAll("rect").data(function(d) { return d; })
  .enter().append("rect")
    .attr("x", function(d, i) { return cellX(i); })
    .attr("width", cellX.bandwidth() + 0.5)
    .attr("height", cellY.bandwidth() + 0.5)
    .attr("fill", function(d) { return rateColor(d); });

rows.selectAll("text").data(function(d) { return d; })
  .enter().append("text")
    .attr("x", function(d, i) { return cellX(i) + cellX.bandwidth() / 2; })
    .attr("y", cellY.bandwidth() / 2 + 1)
    .attr("dy", "0.36em")
    .attr("text-anchor", "middle")
    .attr("font-family", sans).attr("font-weight", "bold").attr("font-size", 37)
    .attr("fill", "#000")
    .text(function(d) { return d.toFixed(1); });

svg.append("rect")
    .attr("x", heatLeft).attr("y", heatTop)
    .attr("width", heatRight - heatLeft).attr("height", heatBottom - heatTop)
    .attr("fill", "none")
    .attr("stroke", "#000")
    .attr("stroke-width", 5);

var regionAxis = svg.append("g")
    .attr("transform", "translate(" + heatLeft + ",0)")
    .call(d3.axisLeft(cellY).tickSize(11).tickPadding(9));
regionAxis.select(".domain").remove();
regionAxis.selectAll("line").attr("stroke", "#000").attr("stroke-width", 4);
regionAxis.selectAll("text")
    .attr("font-family", sans).attr("font-weight", "bold").attr("font-size", 42)
    .attr("fill", "#000").attr("dy", "0.28em");

var yearScale = d3.scaleLinear().domain([years[0], years[years.length - 1]]).range([heatLeft, heatRight]);
var yearAxis = svg.append("g")
    .attr("transform", "translate(0," + heatBottom + ")")
    .call(d3.axisBottom(yearScale).tickValues(years).tickSize(0).tickPadding(40).tickFormat(d3.format("d")));
yearAxis.select(".domain").remove();
yearAxis.selectAll("text")
    .attr("font-family", sans).attr("font-weight", "bold").attr("font-size", 39)
    .attr("fill", "#000");

var titleC = svg.append("text")
    .attr("x", 2006).attr("y", 102)
    .attr("font-family", serif).attr("font-weight", "bold").attr("font-size", 77)
    .attr("fill", "#000");
titleC.append("tspan").text("(c) Inter-annual variation rate of NO");
titleC.append("tspan").attr("dy", 16).attr("font-size", 50).text("x");
titleC.append("tspan").attr("dy", -16).text(" emission");

// colour bar
var barY = d3.scaleLinear().domain([-32, 32]).range([2437, 876]);
var barLeft = 3366, barRight = 3443;
svg.append("g").selectAll("rect").data(rateColors)
  .enter().append("rect")
    .attr("x", barLeft)
    .attr("y", function(d, i) { return barY(-32 + (i + 1) * 2); })
    .attr("width", barRight - barLeft)
    .attr("height", barY(0) - barY(2) + 0.5)
    .attr("fill", function(d) { return d; });
svg.append("rect")
    .attr("x", barLeft).attr("y", barY(32))
    .attr("width", barRight - barLeft).attr("height", barY(-32) - barY(32))
    .attr("fill", "none")
    .attr("stroke", "#222")
    .attr("stroke-width", 3);
var barAxis = svg.append("g")
    .attr("transform", "translate(" + barRight + ",0)")
    .call(d3.axisRight(barY).tickValues(rateTicks).tickSize(27).tickPadding(13));
barAxis.select(".domain").remove();
barAxis.selectAll("line").attr("stroke", "#000").attr("stroke-width", 3);
barAxis.selectAll("text")
    .attr("font-family", sans).attr("font-weight", "bold").attr("font-size", 42)
    .attr("fill", "#000");
svg.append("text")
    .attr("x", 3404).attr("y", 834)
    .attr("text-anchor", "middle")
    .attr("font-family", sans).attr("font-weight", "bold").attr("font-size", 48)
    .attr("fill", "#000")
    .text("(%)");
</script>
</body>
</html>
